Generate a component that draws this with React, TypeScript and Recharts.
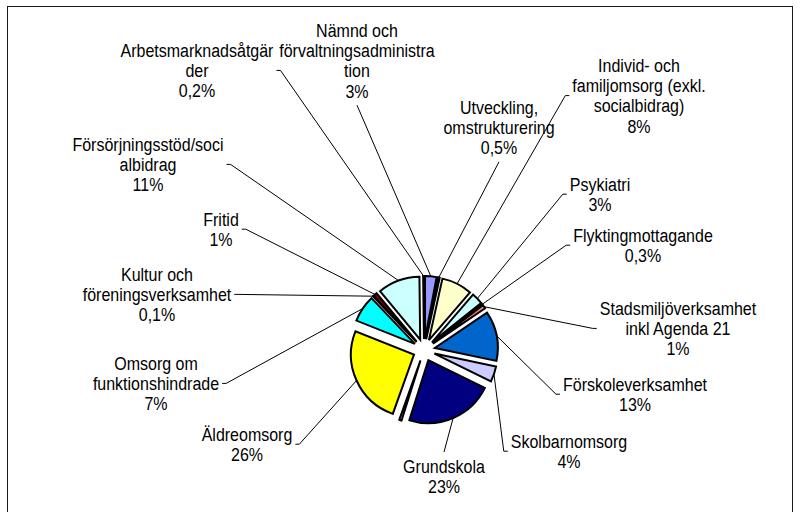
import React from "react";
import { PieChart, Pie, Sector } from "recharts";

// Clockwise from 12 o'clock, as Excel draws it
const categories = [
  "Nämnd och\nförvaltningsadministra\ntion",
  "Utveckling,\nomstrukturering",
  "Individ- och\nfamiljomsorg (exkl.\nsocialbidrag)",
  "Psykiatri",
  "Flyktingmottagande",
  "Stadsmiljöverksamhet\ninkl Agenda 21",
  "Förskoleverksamhet",
  "Skolbarnomsorg",
  "Grundskola",
  "",
  "Äldreomsorg",
  "Omsorg om\nfunktionshindrade",
  "Kultur och\nföreningsverksamhet",
  "Fritid",
  "Försörjningsstöd/soci\nalbidrag",
  "Arbetsmarknadsåtgär\nder",
];

const shares = [3, 0.5, 8, 3, 0.3, 1, 13, 4, 23, 0.6, 26, 7, 0.1, 1, 11, 0.2];

const colors = [
  "#9999FF", "#993366", "#FFFFCC", "#CCFFFF", "#660066", "#FF8080", "#0066CC", "#CCCCFF",
  "#000080", "#FFFFFF", "#FFFF00", "#00FFFF", "#800080", "#800000", "#CCFFFF", "#000000",
];

// where each label sits (centre x, first line centre y) and which side the leader leaves from
type Side = "left" | "right" | "top" | "bottom";
const labelPlaces: ({ x: number; y: number; side: Side } | null)[] = [
  { x: 357, y: 30, side: "bottom" },
  { x: 499, y: 107, side: "bottom" },
  { x: 639, y: 65, side: "left" },
  { x: 600, y: 184, side: "left" },
  { x: 643, y: 235, side: "left" },
  { x: 678, y: 308, side: "left" },
  { x: 635, y: 384, side: "left" },
  { x: 569, y: 441, side: "left" },
  { x: 444, y: 466, side: "top" },
  null,
  { x: 247, y: 434, side: "right" },
  { x: 156, y: 363, side: "right" },
  { x: 157, y: 274, side: "right" },
  { x: 221, y: 219, side: "right" },
  { x: 148, y: 144, side: "right" },
  { x: 197, y: 50, side: "right" },
];

const data = categories.map((name, i) => ({ name, value: shares[i] }));

const FONT = '16px "Liberation Sans", Arial, sans-serif';
const LINE = 20.4;
const EXPLODE = 11;
const RAD = Math.PI / 180;

const polar = (cx: number, cy: number, r: number, a: number) => ({
  x: cx + r * Math.cos(-a * RAD),
  y: cy + r * Math.sin(-a * RAD),
});

let ctx: CanvasRenderingContext2D | null = null;
function textWidth(s: string) {
  if (!ctx) ctx = document.createElement("canvas").getContext("2d");
  if (!ctx) return s.length * 7.5;
  ctx.font = FONT;
  return ctx.measureText(s).width;
}

const pct = (v: number) => (Number.isInteger(v) ? `${v}%` : `${String(v).replace(".", ",")}%`);

function ExplodedSlice(props: any) {
  const { cx, cy, outerRadius, startAngle, endAngle, midAngle, index } = props;
  const c = polar(cx, cy, EXPLODE, midAngle);
  return (
    <Sector
      cx={c.x}
      cy={c.y}
      innerRadius={0}
      outerRadius={outerRadius}
      startAngle={startAngle}
      endAngle={endAngle}
      fill={colors[index]}
      stroke="#000"
      strokeWidth={2}
    />
  );
}

function SliceLabel(props: any) {
  const { cx, cy, outerRadius, midAngle, index } = props;
  const place = labelPlaces[index];
  if (!place) return null;
  const lines = [...categories[index].split("\n"), pct(shares[index])];
  const w = Math.max(...lines.map(textWidth));
  const midY = place.y + ((lines.length - 1) * LINE) / 2;
  const end = polar(cx, cy, outerRadius + EXPLODE, midAngle);

  let pts: { x: number; y: number }[];
  if (place.side === "right") {
    const ax = place.x + w / 2 + 3;
    pts = [{ x: ax, y: midY }, { x: ax + 4, y: midY }, end];
  } else if (place.side === "left") {
    const ax = place.x - w / 2 - 3;
    pts = [{ x: ax, y: midY }, { x: ax - 4, y: midY }, end];
  } else if (place.side === "bottom") {
    pts = [{ x: place.x, y: place.y + (lines.length - 1) * LINE + 14 }, end];
  } else {
    pts = [{ x: place.x, y: place.y - 14 }, end];
  }

  return (
    <g>
      <polyline
        points={pts.map((p) => `${p.x},${p.y}`).join(" ")}
        fill="none"
        stroke="#000"
        strokeWidth={1}
      />
      {lines.map((l, i) => (
        <text
          key={i}
          transform={`translate(${place.x},${place.y + i * LINE}) scale(1,1.13)`}
          x={0}
          y={5.8}
          textAnchor="middle"
          fill="#000"
          style={{ font: FONT }}
        >
          {l}
        </text>
      ))}
    </g>
  );
}

export default function App() {
  return (
    <div style={{ position: "absolute", left: 0, top: 0, width: 802, height: 512, background: "#fff" }}>
      <div
        style={{
          position: "absolute",
          left: 7,
          top: 6,
          width: 784,
          height: 520,
          border: "1.5px solid #1a1a1a",
        }}
      />
      <div style={{ position: "absolute", left: 0, top: 0 }}>
        <PieChart width={802} height={512} margin={{ top: 0, right: 0, bottom: 0, left: 0 }}>
          <Pie
            data={data}
            dataKey="value"
            nameKey="name"
            cx={424}
            cy={350}
            innerRadius={0}
            outerRadius={63}
            startAngle={90}
            endAngle={-270}
            fill="none"
            stroke="none"
            label={ExplodedSlice}
            labelLine={false}
            isAnimationActive={false}
          />
          <Pie
            data={data}
            dataKey="value"
            nameKey="name"
            cx={424}
            cy={350}
            innerRadius={0}
            outerRadius={63}
            startAngle={90}
            endAngle={-270}
            fill="none"
            stroke="none"
            label={SliceLabel}
            labelLine={false}
            isAnimationActive={false}
          />
        </PieChart>
      </div>
    </div>
  );
}
